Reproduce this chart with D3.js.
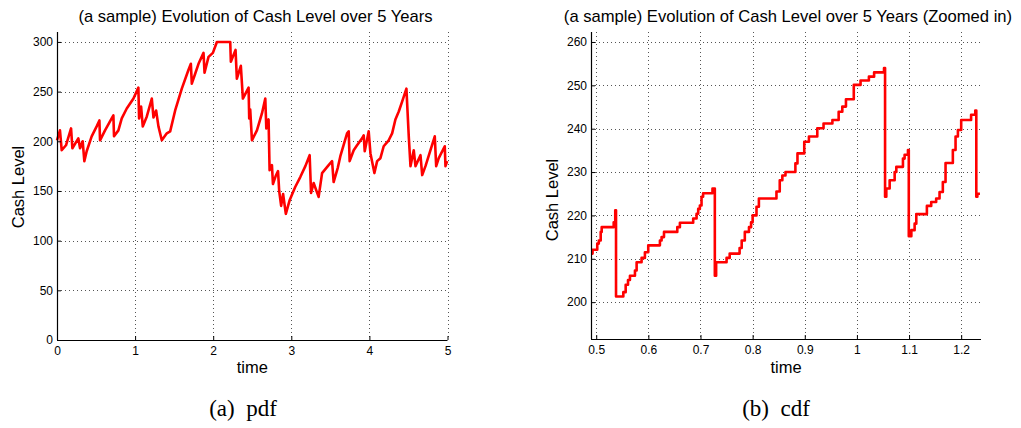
<!DOCTYPE html>
<html>
<head>
<meta charset="utf-8">
<script src="https://cdn.jsdelivr.net/npm/d3@7"></script>
<style>
  html, body { margin: 0; padding: 0; background: #fff; }
  svg { display: block; }
  text { font-family: "Liberation Sans", Arial, Helvetica, sans-serif; fill: #000; }
  .cap { font-family: "Liberation Serif", "Times New Roman", serif; white-space: pre; }
</style>
</head>
<body>
<svg id="chart" width="1021" height="428"></svg>
<script>
// ---------- data ----------
// Left: full 5-year sample path (time, cash level)
const leftTime = [0.00,0.038,0.06,0.115,0.18,0.197,0.273,0.295,0.329,0.35,0.38,0.444,0.508,0.543,0.551,0.615,0.70,0.722,0.73,0.786,0.829,0.893,0.979,1.042,1.051,1.077,1.098,1.15,1.214,1.235,1.269,1.299,1.342,1.406,1.449,1.513,1.598,1.684,1.714,1.726,1.769,1.812,1.876,1.889,1.94,1.996,2.047,2.218,2.226,2.286,2.303,2.354,2.38,2.453,2.461,2.474,2.496,2.56,2.624,2.667,2.68,2.709,2.722,2.752,2.765,2.80,2.83,2.845,2.87,2.895,2.93,2.98,3.05,3.115,3.18,3.235,3.253,3.286,3.35,3.394,3.478,3.522,3.542,3.594,3.628,3.714,3.735,3.747,3.799,3.842,3.906,3.927,3.94,3.991,4.013,4.064,4.099,4.141,4.183,4.247,4.291,4.333,4.376,4.419,4.474,4.504,4.526,4.568,4.59,4.654,4.676,4.718,4.782,4.837,4.855,4.888,4.965,4.974,4.996];
const leftCash = [201,211,191,196,213,193,203,193,200,180,190,205,215,221,201,211,223,226,205,211,223,233,243,254,223,235,215,225,243,224,231,215,201,208,210,231,253,272,278,258,268,278,289,269,285,289,300,300,280,292,263,276,243,254,223,232,201,211,228,243,213,222,171,176,157,165,170,150,135,147,127,141,154,164,175,186,148,158,144,168,176,180,159,173,185,208,210,180,191,196,203,206,190,210,188,168,180,183,195,201,208,222,230,240,253,205,175,191,175,186,166,175,191,205,175,183,195,175,180];

// Right: zoomed-in staircase (time at which each level starts, cash level)
const rightTime = [0.490,0.493,0.502,0.505,0.5086,0.5105,0.5335,0.5365,0.538,0.552,0.5565,0.561,0.5647,0.5743,0.5775,0.587,0.5934,0.5998,0.6222,0.6254,0.630,0.6555,0.6605,0.686,0.6925,0.6956,0.6988,0.702,0.705,0.723,0.7275,0.730,0.750,0.756,0.775,0.779,0.785,0.793,0.797,0.800,0.8074,0.812,0.8457,0.852,0.857,0.863,0.882,0.886,0.899,0.908,0.924,0.936,0.953,0.965,0.972,0.979,0.994,1.007,1.023,1.033,1.052,1.054,1.0564,1.0628,1.0724,1.0756,1.0883,1.0915,1.0979,1.0995,1.1044,1.1107,1.1139,1.1342,1.1425,1.152,1.1585,1.1648,1.170,1.184,1.1892,1.1937,1.200,1.219,1.227,1.229,1.231,1.236];
const rightCash = [211.2,212.1,213.5,214.2,216.2,217.3,218.4,221.2,201.3,202.3,204.0,205.1,206.1,207.3,209.2,210.2,211.5,213.1,214.2,215.0,216.2,217.3,218.3,219.3,220.4,221.5,222.3,224.3,225.1,226.2,206.1,209.2,210.2,211.2,212.5,214.2,216.2,217.3,218.4,220.0,222.0,223.9,225.5,228.1,229.2,230.0,232.0,234.3,237.0,238.2,240.1,241.2,242.0,243.9,245.1,246.8,250.1,251.1,252.0,253.0,254.0,224.3,226.2,228.1,230.0,231.2,233.1,234.0,235.1,215.2,216.6,218.1,220.3,222.2,223.1,223.9,225.4,227.7,232.1,235.1,238.2,239.7,242.0,243.2,244.2,224.3,225.0,225.0];

const leftXTicks = [0,1,2,3,4,5];
const leftYTicks = [0,50,100,150,200,250,300];
const rightXTicks = [0.5,0.6,0.7,0.8,0.9,1,1.1,1.2];
const rightYTicks = [200,210,220,230,240,250,260];

const titles = ["(a sample) Evolution of Cash Level over 5 Years",
                "(a sample) Evolution of Cash Level over 5 Years (Zoomed in)"];
const captions = ["(a)  pdf", "(b)  cdf"];
const xLabel = "time", yLabel = "Cash Level";

// ---------- drawing ----------
const svg = d3.select("#chart");

function panel(cfg) {
  const g = svg.append("g");
  const x = d3.scaleLinear().domain(cfg.xDomain).range([cfg.left, cfg.right]);
  const y = d3.scaleLinear().domain(cfg.yDomain).range([cfg.bottom, cfg.top]);

  // grid
  const grid = g.append("g").attr("stroke", "#555").attr("stroke-width", 1)
    .attr("stroke-dasharray", "1,3").attr("shape-rendering", "crispEdges");
  grid.selectAll(".gx").data(cfg.xTicks).join("line")
    .attr("x1", d => Math.round(x(d)) + 0.5).attr("x2", d => Math.round(x(d)) + 0.5)
    .attr("y1", cfg.top).attr("y2", cfg.bottom);
  grid.selectAll(".gy").data(cfg.yTicks).join("line")
    .attr("y1", d => Math.round(y(d)) + 0.5).attr("y2", d => Math.round(y(d)) + 0.5)
    .attr("x1", cfg.left).attr("x2", cfg.right);

  // data line
  const line = d3.line().x(d => x(d[0])).y(d => y(d[1]));
  if (cfg.step) line.curve(d3.curveStepAfter);
  g.append("path").datum(d3.zip(cfg.xs, cfg.ys))
    .attr("fill", "none").attr("stroke", "#ff0000").attr("stroke-width", 2.6)
    .attr("stroke-linejoin", "round").attr("d", line);

  // axes
  const ax = g.append("g").attr("transform", `translate(0,${cfg.bottom})`)
    .call(d3.axisBottom(x).tickValues(cfg.xTicks).tickSizeInner(-4).tickSizeOuter(0).tickPadding(6)
      .tickFormat(d3.format("~g")));
  const ay = g.append("g").attr("transform", `translate(${cfg.left},0)`)
    .call(d3.axisLeft(y).tickValues(cfg.yTicks).tickSizeInner(-4).tickSizeOuter(0).tickPadding(4)
      .tickFormat(d3.format("~g")));
  [ax, ay].forEach(a => {
    a.selectAll("text").attr("font-size", 12).attr("font-family", "Liberation Sans, Arial, sans-serif");
    a.select(".domain").attr("stroke", "#000").attr("stroke-width", 1.2);
    a.selectAll(".tick line").attr("stroke", "#000");
  });
  ay.select(".domain").attr("d", `M0.5,${cfg.top}V${cfg.bottom}`);
  ax.select(".domain").attr("d", `M${cfg.left},0.5H${cfg.right}`);

  // labels
  svg.append("text").attr("x", cfg.titleX).attr("y", 22).attr("text-anchor", "middle")
    .attr("font-size", 16.6).text(cfg.title);
  svg.append("text").attr("x", (cfg.left + cfg.right) / 2).attr("y", 372.5).attr("text-anchor", "middle")
    .attr("font-size", 16.5).text(xLabel);
  svg.append("text").attr("transform", `translate(${cfg.yLabelX},${cfg.yLabelY}) rotate(-90)`)
    .attr("text-anchor", "middle").attr("dominant-baseline", "central")
    .attr("font-size", 16.5).text(yLabel);
  svg.append("text").attr("class", "cap").attr("x", cfg.capX).attr("y", 416)
    .attr("text-anchor", "middle").attr("font-size", 23).text(cfg.caption);
}

panel({
  xDomain: [0, 5], yDomain: [0, 310], left: 57, right: 447.5, top: 32, bottom: 340,
  xTicks: leftXTicks, yTicks: leftYTicks, xs: leftTime, ys: leftCash, step: false,
  title: titles[0], titleX: 255.5, yLabelX: 18, yLabelY: 187, caption: captions[0], capX: 243
});
panel({
  xDomain: [0.49, 1.238], yDomain: [191.5, 262.3], left: 591, right: 981, top: 32, bottom: 339,
  xTicks: rightXTicks, yTicks: rightYTicks, xs: rightTime, ys: rightCash, step: true,
  title: titles[1], titleX: 788, yLabelX: 552, yLabelY: 200, caption: captions[1], capX: 776
});
</script>
</body>
</html>
